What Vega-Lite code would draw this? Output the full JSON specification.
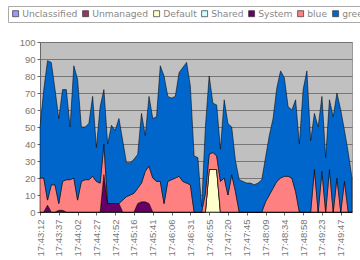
{
  "$schema": "https://vega.github.io/schema/vega-lite/v6.json",
  "width": 312,
  "height": 170,
  "autosize": {"type": "none"},
  "padding": {"left": 40, "top": 42, "right": 8, "bottom": 48},
  "background": "white",
  "config": {
    "view": {"fill": "#C0C0C0", "stroke": "#9a9a9a"},
    "font": "Liberation Sans"
  },
  "data": {
    "values": [
      {"t": "17:43:12", "Default": 0, "System": 0, "blue": 20, "green": 30},
      {"t": "17:43:17", "Default": 0, "System": 0, "blue": 20, "green": 52},
      {"t": "17:43:22", "Default": 0, "System": 4, "blue": 3, "green": 82},
      {"t": "17:43:27", "Default": 0, "System": 0, "blue": 16, "green": 72},
      {"t": "17:43:32", "Default": 0, "System": 0, "blue": 16, "green": 56},
      {"t": "17:43:37", "Default": 0, "System": 1, "blue": 4, "green": 50},
      {"t": "17:43:42", "Default": 0, "System": 1, "blue": 17, "green": 54},
      {"t": "17:43:47", "Default": 0, "System": 0, "blue": 19, "green": 53},
      {"t": "17:43:52", "Default": 0, "System": 0, "blue": 19, "green": 31},
      {"t": "17:43:57", "Default": 0, "System": 0, "blue": 20, "green": 66},
      {"t": "17:44:02", "Default": 0, "System": 0, "blue": 7, "green": 71},
      {"t": "17:44:07", "Default": 0, "System": 0, "blue": 18, "green": 32},
      {"t": "17:44:12", "Default": 0, "System": 0, "blue": 19, "green": 31},
      {"t": "17:44:17", "Default": 0, "System": 0, "blue": 19, "green": 33},
      {"t": "17:44:22", "Default": 0, "System": 0, "blue": 21, "green": 47},
      {"t": "17:44:27", "Default": 0, "System": 0, "blue": 18, "green": 20},
      {"t": "17:44:32", "Default": 0, "System": 0, "blue": 17, "green": 45},
      {"t": "17:44:37", "Default": 0, "System": 22, "blue": 18, "green": 32},
      {"t": "17:44:42", "Default": 0, "System": 5, "blue": 0, "green": 35},
      {"t": "17:44:47", "Default": 0, "System": 5, "blue": 0, "green": 46},
      {"t": "17:44:52", "Default": 0, "System": 5, "blue": 0, "green": 43},
      {"t": "17:44:57", "Default": 0, "System": 5, "blue": 0, "green": 50},
      {"t": "17:45:02", "Default": 0, "System": 0, "blue": 7, "green": 35},
      {"t": "17:45:07", "Default": 0, "System": 0, "blue": 9, "green": 20},
      {"t": "17:45:12", "Default": 0, "System": 0, "blue": 10, "green": 19},
      {"t": "17:45:16", "Default": 0, "System": 0, "blue": 11, "green": 20},
      {"t": "17:45:21", "Default": 0, "System": 5, "blue": 9, "green": 20},
      {"t": "17:45:26", "Default": 0, "System": 6, "blue": 11, "green": 41},
      {"t": "17:45:31", "Default": 0, "System": 6, "blue": 18, "green": 21},
      {"t": "17:45:36", "Default": 0, "System": 5, "blue": 22, "green": 41},
      {"t": "17:45:41", "Default": 0, "System": 0, "blue": 20, "green": 35},
      {"t": "17:45:46", "Default": 0, "System": 0, "blue": 18, "green": 38},
      {"t": "17:45:51", "Default": 0, "System": 0, "blue": 18, "green": 68},
      {"t": "17:45:56", "Default": 0, "System": 0, "blue": 5, "green": 75},
      {"t": "17:46:01", "Default": 0, "System": 0, "blue": 18, "green": 50},
      {"t": "17:46:06", "Default": 0, "System": 0, "blue": 19, "green": 48},
      {"t": "17:46:11", "Default": 0, "System": 0, "blue": 20, "green": 48},
      {"t": "17:46:16", "Default": 0, "System": 0, "blue": 21, "green": 61},
      {"t": "17:46:21", "Default": 0, "System": 0, "blue": 18, "green": 67},
      {"t": "17:46:26", "Default": 0, "System": 0, "blue": 17, "green": 71},
      {"t": "17:46:31", "Default": 0, "System": 0, "blue": 16, "green": 58},
      {"t": "17:46:36", "Default": 0, "System": 0, "blue": 0, "green": 33},
      {"t": "17:46:41", "Default": 0, "System": 0, "blue": 0, "green": 32},
      {"t": "17:46:46", "Default": 0, "System": 0, "blue": 0, "green": 3},
      {"t": "17:46:51", "Default": 0, "System": 0, "blue": 11, "green": 39},
      {"t": "17:46:55", "Default": 25, "System": 0, "blue": 9, "green": 46},
      {"t": "17:47:00", "Default": 25, "System": 0, "blue": 10, "green": 29},
      {"t": "17:47:05", "Default": 25, "System": 0, "blue": 8, "green": 30},
      {"t": "17:47:10", "Default": 0, "System": 0, "blue": 18, "green": 19},
      {"t": "17:47:15", "Default": 0, "System": 0, "blue": 20, "green": 46},
      {"t": "17:47:20", "Default": 0, "System": 0, "blue": 10, "green": 42},
      {"t": "17:47:25", "Default": 0, "System": 0, "blue": 22, "green": 28},
      {"t": "17:47:30", "Default": 0, "System": 0, "blue": 12, "green": 18},
      {"t": "17:47:35", "Default": 0, "System": 0, "blue": 0, "green": 19},
      {"t": "17:47:40", "Default": 0, "System": 0, "blue": 0, "green": 18},
      {"t": "17:47:45", "Default": 0, "System": 0, "blue": 0, "green": 17},
      {"t": "17:47:50", "Default": 0, "System": 0, "blue": 0, "green": 17},
      {"t": "17:47:55", "Default": 0, "System": 0, "blue": 0, "green": 16},
      {"t": "17:48:00", "Default": 0, "System": 0, "blue": 0, "green": 17},
      {"t": "17:48:04", "Default": 0, "System": 0, "blue": 0, "green": 19},
      {"t": "17:48:09", "Default": 0, "System": 0, "blue": 6, "green": 26},
      {"t": "17:48:14", "Default": 0, "System": 0, "blue": 10, "green": 35},
      {"t": "17:48:19", "Default": 0, "System": 0, "blue": 14, "green": 41},
      {"t": "17:48:24", "Default": 0, "System": 0, "blue": 18, "green": 55},
      {"t": "17:48:29", "Default": 0, "System": 0, "blue": 20, "green": 63},
      {"t": "17:48:34", "Default": 0, "System": 0, "blue": 21, "green": 58},
      {"t": "17:48:39", "Default": 0, "System": 0, "blue": 21, "green": 41},
      {"t": "17:48:44", "Default": 0, "System": 0, "blue": 20, "green": 40},
      {"t": "17:48:49", "Default": 0, "System": 0, "blue": 12, "green": 54},
      {"t": "17:48:53", "Default": 0, "System": 0, "blue": 0, "green": 40},
      {"t": "17:48:58", "Default": 0, "System": 0, "blue": 0, "green": 72},
      {"t": "17:49:03", "Default": 0, "System": 0, "blue": 0, "green": 83},
      {"t": "17:49:08", "Default": 0, "System": 0, "blue": 0, "green": 42},
      {"t": "17:49:13", "Default": 0, "System": 0, "blue": 25, "green": 33},
      {"t": "17:49:18", "Default": 0, "System": 0, "blue": 0, "green": 50},
      {"t": "17:49:23", "Default": 0, "System": 0, "blue": 24, "green": 44},
      {"t": "17:49:28", "Default": 0, "System": 0, "blue": 0, "green": 32},
      {"t": "17:49:33", "Default": 0, "System": 0, "blue": 25, "green": 41},
      {"t": "17:49:38", "Default": 0, "System": 0, "blue": 0, "green": 56},
      {"t": "17:49:43", "Default": 0, "System": 0, "blue": 20, "green": 50},
      {"t": "17:49:47", "Default": 0, "System": 0, "blue": 0, "green": 60},
      {"t": "17:49:52", "Default": 0, "System": 0, "blue": 18, "green": 30},
      {"t": "17:49:57", "Default": 0, "System": 0, "blue": 0, "green": 35},
      {"t": "17:50:02", "Default": 0, "System": 0, "blue": 0, "green": 20}
    ]
  },
  "transform": [
    {"fold": ["Default", "System", "blue", "green"], "as": ["series", "value"]}
  ],
  "mark": {"type": "area", "stroke": "#000000", "strokeWidth": 0.6, "strokeOpacity": 0.9},
  "encoding": {
    "x": {
      "field": "t",
      "type": "ordinal",
      "scale": {"type": "point", "padding": 0},
      "axis": {
        "title": null,
        "values": ["17:43:12", "17:43:37", "17:44:02", "17:44:27", "17:44:52", "17:45:16", "17:45:41", "17:46:06", "17:46:31", "17:46:55", "17:47:20", "17:47:45", "17:48:09", "17:48:34", "17:48:58", "17:49:23", "17:49:47"],
        "labelAngle": 270,
        "labelAlign": "right",
        "labelBaseline": "middle",
        "labelFont": "Liberation Sans",
        "labelFontSize": 9.5,
        "labelColor": "#777777",
        "labelPadding": 4,
        "labelOverlap": false,
        "ticks": true,
        "tickSize": 3,
        "tickColor": "#666666",
        "domainColor": "#666666",
        "grid": false
      }
    },
    "y": {
      "field": "value",
      "type": "quantitative",
      "stack": "zero",
      "scale": {"domain": [0, 100], "nice": false},
      "axis": {
        "title": null,
        "values": [0, 10, 20, 30, 40, 50, 60, 70, 80, 90, 100],
        "grid": true,
        "gridColor": "#6e6e6e",
        "gridWidth": 0.9,
        "labelFont": "Liberation Sans",
        "labelFontSize": 9.5,
        "labelColor": "#777777",
        "labelPadding": 2,
        "tickSize": 3,
        "tickColor": "#666666",
        "domainColor": "#666666"
      }
    },
    "order": {"field": "series", "sort": "ascending"},
    "color": {
      "field": "series",
      "type": "nominal",
      "scale": {
        "domain": ["Unclassified", "Unmanaged", "Default", "Shared", "System", "blue", "green"],
        "range": ["#9999FF", "#993366", "#FFFFCC", "#CCFFFF", "#660066", "#FF8080", "#0066CC"]
      },
      "legend": {
        "title": null,
        "orient": "none",
        "direction": "horizontal",
        "legendX": -32,
        "legendY": -36,
        "fillColor": "white",
        "strokeColor": "#aaaaaa",
        "padding": 3,
        "symbolType": "square",
        "symbolSize": 36,
        "symbolStrokeColor": "#333333",
        "symbolStrokeWidth": 0.7,
        "symbolOpacity": 1,
        "labelFont": "DejaVu Sans",
        "labelFontSize": 9.2,
        "labelColor": "#888888",
        "labelOffset": 2,
        "columnPadding": 3
      }
    }
  }
}
